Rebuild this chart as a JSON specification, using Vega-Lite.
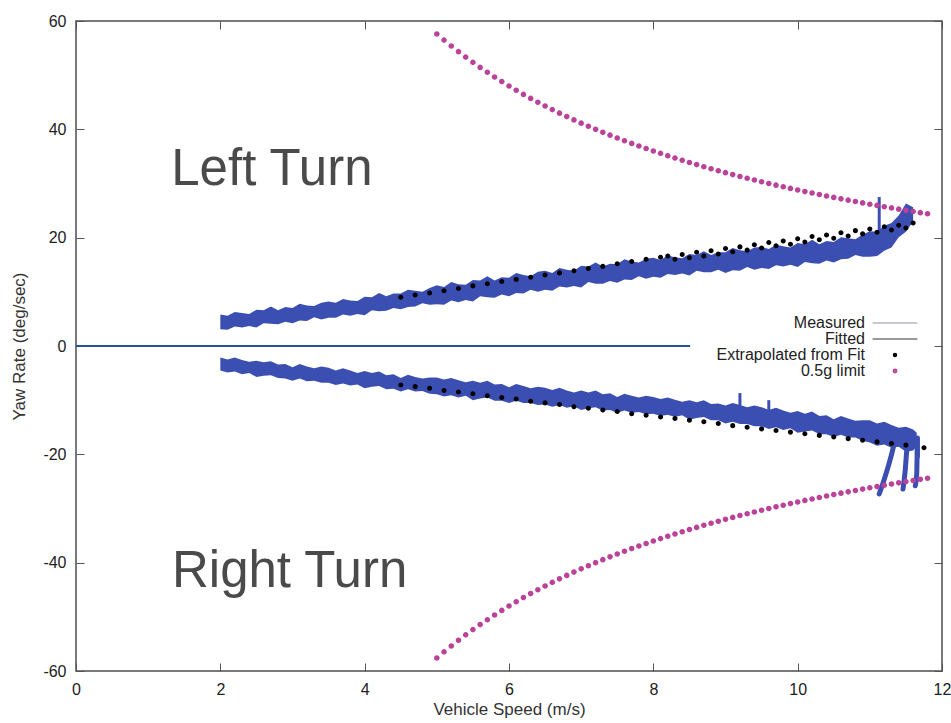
{
  "$schema": "https://vega.github.io/schema/vega-lite/v6.json",
  "width": 866,
  "height": 650,
  "autosize": {"type": "none"},
  "padding": {"left": 76, "top": 21, "right": 9, "bottom": 52},
  "background": "white",
  "datasets": {
    "upper": [
      {"v":2.0,"lo":3.1,"hi":5.8},{"v":2.1,"lo":3.0,"hi":5.6},{"v":2.2,"lo":3.6,"hi":6.3},{"v":2.3,"lo":3.4,"hi":6.1},{"v":2.4,"lo":3.7,"hi":5.9},
      {"v":2.5,"lo":3.4,"hi":6.7},{"v":2.6,"lo":4.2,"hi":6.6},{"v":2.7,"lo":4.1,"hi":7.3},{"v":2.8,"lo":4.0,"hi":6.6},{"v":2.9,"lo":4.5,"hi":7.2},
      {"v":3.0,"lo":4.2,"hi":7.0},{"v":3.1,"lo":4.7,"hi":7.8},{"v":3.2,"lo":4.6,"hi":7.5},{"v":3.3,"lo":5.3,"hi":7.4},{"v":3.4,"lo":4.9,"hi":8.0},
      {"v":3.5,"lo":5.2,"hi":8.2},{"v":3.6,"lo":5.2,"hi":8.0},{"v":3.7,"lo":5.8,"hi":8.7},{"v":3.8,"lo":5.6,"hi":8.4},{"v":3.9,"lo":5.9,"hi":8.3},
      {"v":4.0,"lo":5.7,"hi":9.1},{"v":4.1,"lo":6.6,"hi":9.0},{"v":4.2,"lo":6.4,"hi":9.8},{"v":4.3,"lo":6.5,"hi":9.2},{"v":4.4,"lo":7.0,"hi":9.7},
      {"v":4.5,"lo":6.8,"hi":9.7},{"v":4.6,"lo":7.2,"hi":10.4},{"v":4.7,"lo":7.3,"hi":10.2},{"v":4.8,"lo":7.9,"hi":10.0},{"v":4.9,"lo":7.6,"hi":10.7},
      {"v":5.0,"lo":7.7,"hi":11.2},{"v":5.1,"lo":7.6,"hi":10.9},{"v":5.2,"lo":8.4,"hi":11.8},{"v":5.3,"lo":8.1,"hi":11.4},{"v":5.4,"lo":8.5,"hi":11.3},
      {"v":5.5,"lo":8.2,"hi":12.2},{"v":5.6,"lo":9.2,"hi":12.1},{"v":5.7,"lo":9.0,"hi":12.9},{"v":5.8,"lo":8.9,"hi":12.1},{"v":5.9,"lo":9.5,"hi":12.7},
      {"v":6.0,"lo":9.2,"hi":12.6},{"v":6.1,"lo":9.8,"hi":13.5},{"v":6.2,"lo":9.7,"hi":13.1},{"v":6.3,"lo":10.4,"hi":12.9},{"v":6.4,"lo":10.0,"hi":13.7},
      {"v":6.5,"lo":10.4,"hi":13.9},{"v":6.6,"lo":10.2,"hi":13.5},{"v":6.7,"lo":11.0,"hi":14.4},{"v":6.8,"lo":10.8,"hi":14.1},{"v":6.9,"lo":11.1,"hi":13.9},
      {"v":7.0,"lo":10.8,"hi":14.8},{"v":7.1,"lo":11.8,"hi":14.7},{"v":7.2,"lo":11.5,"hi":15.4},{"v":7.3,"lo":11.5,"hi":14.7},{"v":7.4,"lo":12.0,"hi":15.2},
      {"v":7.5,"lo":11.7,"hi":15.1},{"v":7.6,"lo":12.3,"hi":16.0},{"v":7.7,"lo":12.2,"hi":15.6},{"v":7.8,"lo":12.9,"hi":15.4},{"v":7.9,"lo":12.4,"hi":16.1},
      {"v":8.0,"lo":12.8,"hi":16.3},{"v":8.1,"lo":12.6,"hi":15.9},{"v":8.2,"lo":13.3,"hi":16.7},{"v":8.3,"lo":13.1,"hi":16.4},{"v":8.4,"lo":13.4,"hi":16.2},
      {"v":8.5,"lo":13.0,"hi":17.0},{"v":8.6,"lo":13.9,"hi":16.8},{"v":8.7,"lo":13.6,"hi":17.5},{"v":8.8,"lo":13.6,"hi":16.8},{"v":8.9,"lo":14.1,"hi":17.3},
      {"v":9.0,"lo":13.5,"hi":17.3},{"v":9.1,"lo":14.0,"hi":18.1},{"v":9.2,"lo":13.9,"hi":17.7},{"v":9.3,"lo":14.6,"hi":17.5},{"v":9.4,"lo":14.1,"hi":18.2},
      {"v":9.5,"lo":14.4,"hi":18.3},{"v":9.6,"lo":14.2,"hi":17.9},{"v":9.7,"lo":14.9,"hi":18.7},{"v":9.8,"lo":14.7,"hi":18.4},{"v":9.9,"lo":15.0,"hi":18.2},
      {"v":10.0,"lo":14.6,"hi":19.0},{"v":10.1,"lo":15.5,"hi":18.8},{"v":10.2,"lo":15.3,"hi":19.6},{"v":10.3,"lo":15.2,"hi":18.8},{"v":10.4,"lo":15.8,"hi":19.4},
      {"v":10.5,"lo":15.4,"hi":19.2},{"v":10.6,"lo":16.0,"hi":20.1},{"v":10.7,"lo":16.1,"hi":19.9},{"v":10.8,"lo":16.8,"hi":19.7},{"v":10.9,"lo":16.5,"hi":20.6},
      {"v":11.0,"lo":16.5,"hi":21.2},{"v":11.1,"lo":16.6,"hi":21.1},{"v":11.2,"lo":17.6,"hi":22.2},{"v":11.3,"lo":18.2,"hi":22.7},{"v":11.4,"lo":20.1,"hi":24.1},
      {"v":11.5,"lo":21.1,"hi":26.3},{"v":11.6,"lo":23.0,"hi":25.6}
    ],
    "lower": [
      {"v":2.0,"lo":-4.5,"hi":-2.1},{"v":2.1,"lo":-4.9,"hi":-2.5},{"v":2.2,"lo":-4.7,"hi":-2.1},{"v":2.3,"lo":-5.2,"hi":-2.6},{"v":2.4,"lo":-5.0,"hi":-2.9},
      {"v":2.5,"lo":-5.7,"hi":-2.7},{"v":2.6,"lo":-5.5,"hi":-3.0},{"v":2.7,"lo":-5.4,"hi":-2.8},{"v":2.8,"lo":-5.9,"hi":-3.4},{"v":2.9,"lo":-6.0,"hi":-3.3},
      {"v":3.0,"lo":-6.4,"hi":-3.9},{"v":3.1,"lo":-6.0,"hi":-3.3},{"v":3.2,"lo":-6.5,"hi":-3.8},{"v":3.3,"lo":-6.4,"hi":-4.1},{"v":3.4,"lo":-6.8,"hi":-3.8},
      {"v":3.5,"lo":-6.8,"hi":-4.0},{"v":3.6,"lo":-7.2,"hi":-4.5},{"v":3.7,"lo":-6.9,"hi":-4.1},{"v":3.8,"lo":-7.3,"hi":-4.5},{"v":3.9,"lo":-7.1,"hi":-5.0},
      {"v":4.0,"lo":-7.8,"hi":-4.6},{"v":4.1,"lo":-7.5,"hi":-5.0},{"v":4.2,"lo":-7.4,"hi":-4.7},{"v":4.3,"lo":-8.0,"hi":-5.4},{"v":4.4,"lo":-7.9,"hi":-5.2},
      {"v":4.5,"lo":-8.4,"hi":-5.9},{"v":4.6,"lo":-8.0,"hi":-5.3},{"v":4.7,"lo":-8.4,"hi":-5.7},{"v":4.8,"lo":-8.3,"hi":-6.0},{"v":4.9,"lo":-8.8,"hi":-5.8},
      {"v":5.0,"lo":-8.9,"hi":-5.8},{"v":5.1,"lo":-9.3,"hi":-6.2},{"v":5.2,"lo":-9.1,"hi":-5.9},{"v":5.3,"lo":-9.5,"hi":-6.3},{"v":5.4,"lo":-9.2,"hi":-6.7},
      {"v":5.5,"lo":-10.0,"hi":-6.4},{"v":5.6,"lo":-9.7,"hi":-6.8},{"v":5.7,"lo":-9.5,"hi":-6.4},{"v":5.8,"lo":-10.1,"hi":-7.1},{"v":5.9,"lo":-10.1,"hi":-7.0},
      {"v":6.0,"lo":-10.5,"hi":-7.6},{"v":6.1,"lo":-10.1,"hi":-7.0},{"v":6.2,"lo":-10.5,"hi":-7.4},{"v":6.3,"lo":-10.5,"hi":-7.8},{"v":6.4,"lo":-10.9,"hi":-7.5},
      {"v":6.5,"lo":-10.8,"hi":-7.7},{"v":6.6,"lo":-11.2,"hi":-8.1},{"v":6.7,"lo":-10.9,"hi":-7.7},{"v":6.8,"lo":-11.4,"hi":-8.2},{"v":6.9,"lo":-11.1,"hi":-8.6},
      {"v":7.0,"lo":-11.8,"hi":-8.2},{"v":7.1,"lo":-11.5,"hi":-8.6},{"v":7.2,"lo":-11.3,"hi":-8.2},{"v":7.3,"lo":-11.9,"hi":-8.9},{"v":7.4,"lo":-11.8,"hi":-8.7},
      {"v":7.5,"lo":-12.3,"hi":-9.4},{"v":7.6,"lo":-11.9,"hi":-8.8},{"v":7.7,"lo":-12.3,"hi":-9.2},{"v":7.8,"lo":-12.2,"hi":-9.5},{"v":7.9,"lo":-12.6,"hi":-9.2},
      {"v":8.0,"lo":-12.5,"hi":-9.4},{"v":8.1,"lo":-12.9,"hi":-9.8},{"v":8.2,"lo":-12.7,"hi":-9.5},{"v":8.3,"lo":-13.1,"hi":-9.9},{"v":8.4,"lo":-12.8,"hi":-10.3},
      {"v":8.5,"lo":-13.6,"hi":-10.0},{"v":8.6,"lo":-13.3,"hi":-10.4},{"v":8.7,"lo":-13.1,"hi":-10.0},{"v":8.8,"lo":-13.7,"hi":-10.7},{"v":8.9,"lo":-13.7,"hi":-10.6},
      {"v":9.0,"lo":-14.3,"hi":-11.0},{"v":9.1,"lo":-14.0,"hi":-10.5},{"v":9.2,"lo":-14.4,"hi":-10.9},{"v":9.3,"lo":-14.4,"hi":-11.3},{"v":9.4,"lo":-14.8,"hi":-11.0},
      {"v":9.5,"lo":-14.8,"hi":-11.3},{"v":9.6,"lo":-15.3,"hi":-11.8},{"v":9.7,"lo":-15.0,"hi":-11.4},{"v":9.8,"lo":-15.5,"hi":-11.9},{"v":9.9,"lo":-15.2,"hi":-12.3},
      {"v":10.0,"lo":-16.0,"hi":-12.0},{"v":10.1,"lo":-15.8,"hi":-12.5},{"v":10.2,"lo":-15.6,"hi":-12.1},{"v":10.3,"lo":-16.3,"hi":-12.9},{"v":10.4,"lo":-16.3,"hi":-12.8},
      {"v":10.5,"lo":-16.8,"hi":-13.5},{"v":10.6,"lo":-16.4,"hi":-12.9},{"v":10.7,"lo":-16.9,"hi":-13.4},{"v":10.8,"lo":-16.9,"hi":-13.8},{"v":10.9,"lo":-17.5,"hi":-13.7},
      {"v":11.0,"lo":-17.8,"hi":-13.7},{"v":11.1,"lo":-18.4,"hi":-14.3},{"v":11.2,"lo":-18.2,"hi":-14.0},{"v":11.3,"lo":-18.8,"hi":-14.6},{"v":11.4,"lo":-18.6,"hi":-15.1},
      {"v":11.5,"lo":-19.5,"hi":-14.9},{"v":11.6,"lo":-19.3,"hi":-15.4},{"v":11.65,"lo":-18.5,"hi":-16.0}
    ],
    "hooks": [
      {"h":"a","v":11.36,"yaw":-16.5},{"h":"a","v":11.32,"yaw":-19.0},{"h":"a","v":11.26,"yaw":-22.0},{"h":"a","v":11.19,"yaw":-25.0},{"h":"a","v":11.13,"yaw":-27.3},
      {"h":"b","v":11.53,"yaw":-16.5},{"h":"b","v":11.51,"yaw":-19.5},{"h":"b","v":11.49,"yaw":-23.0},{"h":"b","v":11.46,"yaw":-26.4},
      {"h":"c","v":11.66,"yaw":-17.0},{"h":"c","v":11.66,"yaw":-20.5},{"h":"c","v":11.65,"yaw":-23.5},{"h":"c","v":11.63,"yaw":-25.8}
    ],
    "spikes": [
      {"v":11.13,"a":18.5,"b":27.5},
      {"v":9.2,"a":-12.0,"b":-8.7},
      {"v":9.6,"a":-12.5,"b":-10.0}
    ],
    "fit": [
      {"v":4.5,"yaw":9.0},{"v":4.7,"yaw":9.4},{"v":4.9,"yaw":9.8},{"v":5.1,"yaw":10.2},{"v":5.3,"yaw":10.6},{"v":5.5,"yaw":11.1},{"v":5.7,"yaw":11.5},
      {"v":5.9,"yaw":11.9},{"v":6.1,"yaw":12.3},{"v":6.3,"yaw":12.7},{"v":6.5,"yaw":13.1},{"v":6.7,"yaw":13.5},{"v":6.9,"yaw":13.9},{"v":7.1,"yaw":14.3},
      {"v":7.3,"yaw":14.7},{"v":7.5,"yaw":15.2},{"v":7.7,"yaw":15.6},{"v":7.9,"yaw":16.0},{"v":8.1,"yaw":16.4},
      {"v":8.2,"yaw":16.6},{"v":8.3,"yaw":16.0},{"v":8.4,"yaw":16.9},{"v":8.5,"yaw":16.3},{"v":8.6,"yaw":17.3},{"v":8.7,"yaw":16.6},{"v":8.8,"yaw":17.6},
      {"v":8.9,"yaw":17.0},{"v":9.0,"yaw":18.0},{"v":9.1,"yaw":17.4},{"v":9.2,"yaw":18.3},{"v":9.3,"yaw":17.7},{"v":9.4,"yaw":18.7},{"v":9.5,"yaw":18.1},
      {"v":9.6,"yaw":19.1},{"v":9.7,"yaw":18.5},{"v":9.8,"yaw":19.4},{"v":9.9,"yaw":18.8},{"v":10.0,"yaw":19.8},{"v":10.1,"yaw":19.2},{"v":10.2,"yaw":20.2},
      {"v":10.3,"yaw":19.6},{"v":10.4,"yaw":20.5},{"v":10.5,"yaw":19.9},{"v":10.6,"yaw":20.9},{"v":10.7,"yaw":20.3},{"v":10.8,"yaw":21.3},{"v":10.9,"yaw":20.7},
      {"v":11.0,"yaw":21.6},{"v":11.1,"yaw":21.0},{"v":11.2,"yaw":22.0},{"v":11.3,"yaw":21.4},{"v":11.4,"yaw":22.3},{"v":11.5,"yaw":21.8},{"v":11.6,"yaw":22.7},
      {"v":4.5,"yaw":-7.2},{"v":4.7,"yaw":-7.5},{"v":4.9,"yaw":-7.8},{"v":5.1,"yaw":-8.2},{"v":5.3,"yaw":-8.5},{"v":5.5,"yaw":-8.8},{"v":5.7,"yaw":-9.2},
      {"v":5.9,"yaw":-9.5},{"v":6.1,"yaw":-9.8},{"v":6.3,"yaw":-10.2},{"v":6.5,"yaw":-10.5},{"v":6.7,"yaw":-10.8},{"v":6.9,"yaw":-11.2},{"v":7.1,"yaw":-11.5},
      {"v":7.3,"yaw":-11.8},{"v":7.5,"yaw":-12.1},{"v":7.7,"yaw":-12.5},{"v":7.9,"yaw":-12.8},{"v":8.1,"yaw":-13.1},{"v":8.3,"yaw":-13.4},{"v":8.5,"yaw":-13.7},
      {"v":8.7,"yaw":-14.0},{"v":8.9,"yaw":-14.3},{"v":9.1,"yaw":-14.7},{"v":9.3,"yaw":-15.0},{"v":9.5,"yaw":-15.3},{"v":9.7,"yaw":-15.6},{"v":9.9,"yaw":-15.9},
      {"v":10.1,"yaw":-16.2},{"v":10.3,"yaw":-16.5},{"v":10.5,"yaw":-16.8},{"v":10.7,"yaw":-17.1},{"v":10.9,"yaw":-17.4},{"v":11.1,"yaw":-17.7},{"v":11.3,"yaw":-18.0},
      {"v":11.5,"yaw":-18.3},{"v":11.75,"yaw":-18.8}
    ],
    "lim": [
      {"v":5.0,"l":57.6,"r":-57.6},{"v":5.1,"l":56.47,"r":-56.47},{"v":5.2,"l":55.38,"r":-55.38},{"v":5.3,"l":54.34,"r":-54.34},{"v":5.4,"l":53.33,"r":-53.33},
      {"v":5.5,"l":52.36,"r":-52.36},{"v":5.6,"l":51.43,"r":-51.43},{"v":5.7,"l":50.53,"r":-50.53},{"v":5.8,"l":49.66,"r":-49.66},{"v":5.9,"l":48.81,"r":-48.81},
      {"v":6.0,"l":48.0,"r":-48.0},{"v":6.1,"l":47.21,"r":-47.21},{"v":6.2,"l":46.45,"r":-46.45},{"v":6.3,"l":45.71,"r":-45.71},{"v":6.4,"l":45.0,"r":-45.0},
      {"v":6.5,"l":44.31,"r":-44.31},{"v":6.6,"l":43.64,"r":-43.64},{"v":6.7,"l":42.99,"r":-42.99},{"v":6.8,"l":42.35,"r":-42.35},{"v":6.9,"l":41.74,"r":-41.74},
      {"v":7.0,"l":41.14,"r":-41.14},{"v":7.1,"l":40.56,"r":-40.56},{"v":7.2,"l":40.0,"r":-40.0},{"v":7.3,"l":39.45,"r":-39.45},{"v":7.4,"l":38.92,"r":-38.92},
      {"v":7.5,"l":38.4,"r":-38.4},{"v":7.6,"l":37.89,"r":-37.89},{"v":7.7,"l":37.4,"r":-37.4},{"v":7.8,"l":36.92,"r":-36.92},{"v":7.9,"l":36.46,"r":-36.46},
      {"v":8.0,"l":36.0,"r":-36.0},{"v":8.1,"l":35.56,"r":-35.56},{"v":8.2,"l":35.12,"r":-35.12},{"v":8.3,"l":34.7,"r":-34.7},{"v":8.4,"l":34.29,"r":-34.29},
      {"v":8.5,"l":33.88,"r":-33.88},{"v":8.6,"l":33.49,"r":-33.49},{"v":8.7,"l":33.1,"r":-33.1},{"v":8.8,"l":32.73,"r":-32.73},{"v":8.9,"l":32.36,"r":-32.36},
      {"v":9.0,"l":32.0,"r":-32.0},{"v":9.1,"l":31.65,"r":-31.65},{"v":9.2,"l":31.3,"r":-31.3},{"v":9.3,"l":30.97,"r":-30.97},{"v":9.4,"l":30.64,"r":-30.64},
      {"v":9.5,"l":30.32,"r":-30.32},{"v":9.6,"l":30.0,"r":-30.0},{"v":9.7,"l":29.69,"r":-29.69},{"v":9.8,"l":29.39,"r":-29.39},{"v":9.9,"l":29.09,"r":-29.09},
      {"v":10.0,"l":28.8,"r":-28.8},{"v":10.1,"l":28.51,"r":-28.51},{"v":10.2,"l":28.24,"r":-28.24},{"v":10.3,"l":27.96,"r":-27.96},{"v":10.4,"l":27.69,"r":-27.69},
      {"v":10.5,"l":27.43,"r":-27.43},{"v":10.6,"l":27.17,"r":-27.17},{"v":10.7,"l":26.92,"r":-26.92},{"v":10.8,"l":26.67,"r":-26.67},{"v":10.9,"l":26.42,"r":-26.42},
      {"v":11.0,"l":26.18,"r":-26.18},{"v":11.1,"l":25.95,"r":-25.95},{"v":11.2,"l":25.71,"r":-25.71},{"v":11.3,"l":25.49,"r":-25.49},{"v":11.4,"l":25.26,"r":-25.26},
      {"v":11.5,"l":25.04,"r":-25.04},{"v":11.6,"l":24.83,"r":-24.83},{"v":11.7,"l":24.62,"r":-24.62},{"v":11.8,"l":24.41,"r":-24.41}
    ],
    "zero": [{"v":0,"yaw":0},{"v":8.51,"yaw":0}],
    "labels": [
      {"label":"Left Turn","v":1.32,"yaw":29.8},
      {"label":"Right Turn","v":1.33,"yaw":-44.5}
    ]
  },
  "layer": [
    {
      "data": {"name": "upper"},
      "mark": {"type": "area", "color": "#3b4fb3", "opacity": 1},
      "encoding": {
        "x": {"field": "v", "type": "quantitative", "scale": {"domain": [0, 12], "nice": false, "zero": false},
              "axis": {"orient": "bottom", "values": [0, 2, 4, 6, 8, 10, 12], "labelPadding": 18, "title": "Vehicle Speed (m/s)", "titlePadding": 4}},
        "y": {"field": "lo", "type": "quantitative", "scale": {"domain": [-60, 60], "nice": false, "zero": false},
              "axis": {"orient": "left", "values": [-60, -40, -20, 0, 20, 40, 60], "labelPadding": 18, "title": "Yaw Rate (deg/sec)", "titlePadding": 14,
                       "labelExpr": "datum.value < 0 ? '-' + abs(datum.value) : '' + datum.value"}},
        "y2": {"field": "hi"}
      }
    },
    {
      "data": {"name": "lower"},
      "mark": {"type": "area", "color": "#3b4fb3", "opacity": 1},
      "encoding": {
        "x": {"field": "v", "type": "quantitative", "scale": {"domain": [0, 12], "nice": false, "zero": false}, "axis": null},
        "y": {"field": "lo", "type": "quantitative", "scale": {"domain": [-60, 60], "nice": false, "zero": false}, "axis": null},
        "y2": {"field": "hi"}
      }
    },
    {
      "data": {"name": "hooks"},
      "mark": {"type": "line", "color": "#3b4fb3", "strokeWidth": 5, "strokeCap": "round", "strokeJoin": "round", "interpolate": "monotone", "opacity": 1},
      "encoding": {
        "x": {"field": "v", "type": "quantitative", "scale": {"domain": [0, 12], "nice": false, "zero": false}, "axis": null},
        "y": {"field": "yaw", "type": "quantitative", "scale": {"domain": [-60, 60], "nice": false, "zero": false}, "axis": null},
        "detail": {"field": "h"}
      }
    },
    {
      "data": {"name": "spikes"},
      "mark": {"type": "rule", "color": "#3b4fb3", "strokeWidth": 3},
      "encoding": {
        "x": {"field": "v", "type": "quantitative", "scale": {"domain": [0, 12], "nice": false, "zero": false}, "axis": null},
        "y": {"field": "a", "type": "quantitative", "scale": {"domain": [-60, 60], "nice": false, "zero": false}, "axis": null},
        "y2": {"field": "b"}
      }
    },
    {
      "data": {"name": "fit"},
      "mark": {"type": "point", "filled": false, "strokeWidth": 2.6, "opacity": 1},
      "encoding": {
        "x": {"field": "v", "type": "quantitative", "scale": {"domain": [0, 12], "nice": false, "zero": false}, "axis": null},
        "y": {"field": "yaw", "type": "quantitative", "scale": {"domain": [-60, 60], "nice": false, "zero": false}, "axis": null},
        "color": {
          "datum": "Extrapolated from Fit",
          "type": "nominal",
          "scale": {
            "type": "ordinal",
            "domain": ["Measured", "Fitted", "Extrapolated from Fit", "0.5g limit"],
            "range": ["#c8c8d4", "#9a9a9a", "#000000", "#bb4299"]
          },
          "legend": {
            "title": null,
            "orient": "none",
            "legendX": 811,
            "legendY": 294,
            "padding": 0,
            "rowPadding": -1,
            "symbolStrokeWidth": 2,
            "symbolOffset": 0,
            "labelAlign": "right",
            "labelOffset": -38,
            "labelFont": "Liberation Sans",
            "labelFontSize": 16,
            "labelColor": "#222222",
            "labelLimit": 300
          }
        },
        "shape": {
          "datum": "Extrapolated from Fit",
          "type": "nominal",
          "scale": {
            "type": "ordinal",
            "domain": ["Measured", "Fitted", "Extrapolated from Fit", "0.5g limit"],
            "range": ["M-3.2,0L3.2,0", "M-3.2,0L3.2,0", "circle", "circle"]
          }
        },
        "size": {
          "datum": "Extrapolated from Fit",
          "type": "nominal",
          "scale": {
            "type": "ordinal",
            "domain": ["Measured", "Fitted", "Extrapolated from Fit", "0.5g limit"],
            "range": [196, 196, 6, 8]
          }
        }
      }
    },
    {
      "data": {"name": "lim"},
      "transform": [{"fold": ["l", "r"], "as": ["side", "yaw"]}],
      "mark": {"type": "point", "filled": false, "strokeWidth": 2.8, "opacity": 1},
      "encoding": {
        "x": {"field": "v", "type": "quantitative", "scale": {"domain": [0, 12], "nice": false, "zero": false},
              "axis": {"orient": "top", "values": [0, 2, 4, 6, 8, 10, 12], "labels": false, "title": null}},
        "y": {"field": "yaw", "type": "quantitative", "scale": {"domain": [-60, 60], "nice": false, "zero": false},
              "axis": {"orient": "right", "values": [-60, -40, -20, 0, 20, 40, 60], "labels": false, "title": null}},
        "color": {
          "datum": "0.5g limit",
          "type": "nominal",
          "scale": {
            "type": "ordinal",
            "domain": ["Measured", "Fitted", "Extrapolated from Fit", "0.5g limit"],
            "range": ["#c8c8d4", "#9a9a9a", "#000000", "#bb4299"]
          },
          "legend": {
            "title": null,
            "orient": "none",
            "legendX": 811,
            "legendY": 294,
            "padding": 0,
            "rowPadding": -1,
            "symbolStrokeWidth": 2,
            "symbolOffset": 0,
            "labelAlign": "right",
            "labelOffset": -38,
            "labelFont": "Liberation Sans",
            "labelFontSize": 16,
            "labelColor": "#222222",
            "labelLimit": 300
          }
        },
        "shape": {
          "datum": "0.5g limit",
          "type": "nominal",
          "scale": {
            "type": "ordinal",
            "domain": ["Measured", "Fitted", "Extrapolated from Fit", "0.5g limit"],
            "range": ["M-3.2,0L3.2,0", "M-3.2,0L3.2,0", "circle", "circle"]
          }
        },
        "size": {
          "datum": "0.5g limit",
          "type": "nominal",
          "scale": {
            "type": "ordinal",
            "domain": ["Measured", "Fitted", "Extrapolated from Fit", "0.5g limit"],
            "range": [196, 196, 6, 8]
          }
        }
      }
    },
    {
      "data": {"name": "zero"},
      "mark": {"type": "line", "color": "#1f559e", "strokeWidth": 2.2},
      "encoding": {
        "x": {"field": "v", "type": "quantitative", "scale": {"domain": [0, 12], "nice": false, "zero": false}, "axis": null},
        "y": {"field": "yaw", "type": "quantitative", "scale": {"domain": [-60, 60], "nice": false, "zero": false}, "axis": null}
      }
    },
    {
      "data": {"name": "labels"},
      "mark": {"type": "text", "font": "Liberation Sans", "fontSize": 51, "color": "#4a4a4a", "align": "left", "baseline": "alphabetic"},
      "encoding": {
        "x": {"field": "v", "type": "quantitative", "scale": {"domain": [0, 12], "nice": false, "zero": false}, "axis": null},
        "y": {"field": "yaw", "type": "quantitative", "scale": {"domain": [-60, 60], "nice": false, "zero": false}, "axis": null},
        "text": {"field": "label"}
      }
    }
  ],
  "resolve": {"axis": {"x": "independent", "y": "independent"}},
  "config": {
    "font": "Liberation Sans",
    "view": {"stroke": "#4d4d4d", "strokeWidth": 1.5},
    "axis": {
      "domain": false,
      "grid": false,
      "tickSize": -8,
      "tickColor": "#555555",
      "tickWidth": 1,
      "labelFont": "Liberation Sans",
      "labelFontSize": 16,
      "labelColor": "#222222",
      "labelFlush": false,
      "labelOverlap": false,
      "titleFont": "Liberation Sans",
      "titleFontSize": 17,
      "titleFontWeight": "normal",
      "titleColor": "#333333"
    }
  }
}
